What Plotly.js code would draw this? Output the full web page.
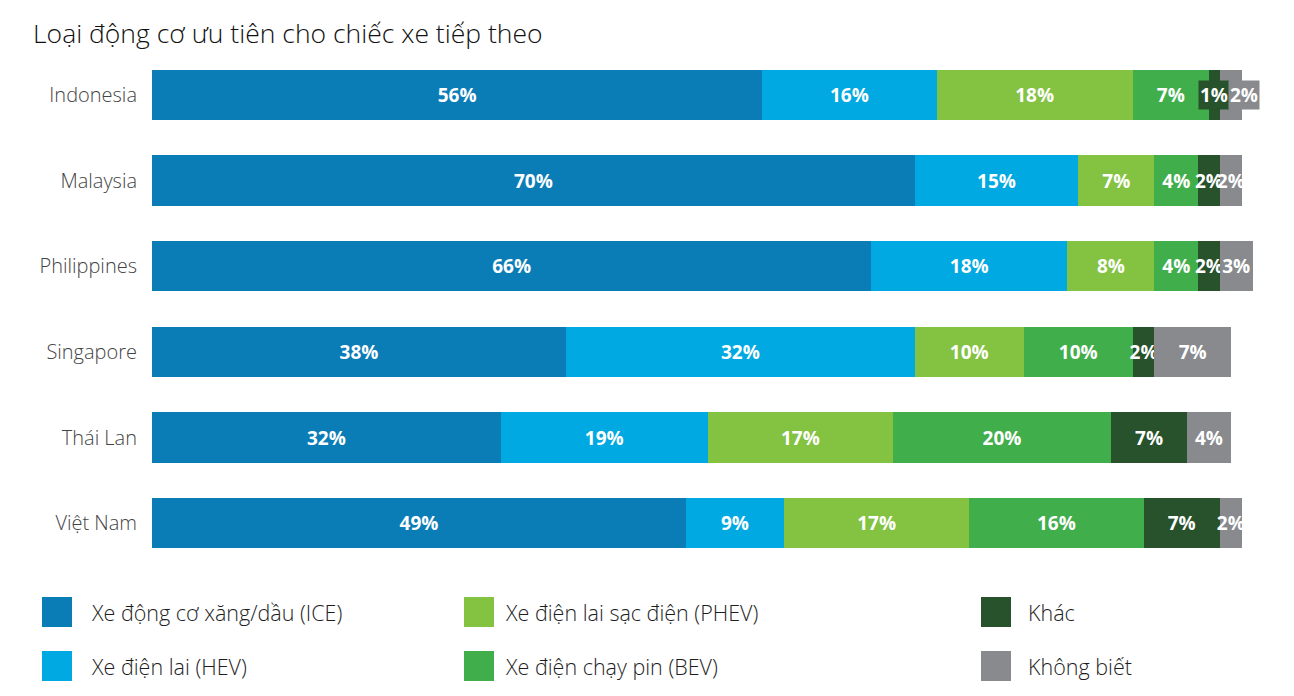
<!DOCTYPE html>
<html>
<head>
<meta charset="utf-8">
<script src="https://cdn.plot.ly/plotly-3.0.1.min.js"></script>
<style>html,body{margin:0;padding:0;background:#fff;}#chart{width:1294px;height:696px;}</style>
</head>
<body>
<div id="chart"></div>
<script>
// ---- data ----
const countries = ["Indonesia", "Malaysia", "Philippines", "Singapore", "Thái Lan", "Việt Nam"];
const seriesNames = ["Xe động cơ xăng/dầu (ICE)", "Xe điện lai (HEV)", "Xe điện lai sạc điện (PHEV)", "Xe điện chạy pin (BEV)", "Khác", "Không biết"];
const iceValues   = [56, 70, 66, 38, 32, 49];
const hevValues   = [16, 15, 18, 32, 19, 9];
const phevValues  = [18, 7, 8, 10, 17, 17];
const bevValues   = [7, 4, 4, 10, 20, 16];
const otherValues = [1, 2, 2, 2, 7, 7];
const unknownValues = [2, 2, 3, 7, 4, 2];
const titleText = "Loại động cơ ưu tiên cho chiếc xe tiếp theo";

// ---- styles ----
const colors = ["#0B7DB6", "#00A9E2", "#84C242", "#40AE4B", "#27522B", "#888A8E"];
const allValues = [iceValues, hevValues, phevValues, bevValues, otherValues, unknownValues];
const FONT = "'Open Sans', 'Noto Sans', sans-serif";

const W = 1294, Hh = 696;
const XMAX = 101.5;
const PX_PER_UNIT = 10.9;
const L = 152, T = 52, B = 130;
const plotW = Math.round(XMAX * PX_PER_UNIT);
const R = W - L - plotW;
const plotH = Hh - T - B;

// Indonesia's two smallest labels are drawn as boxed labels (as in the reference)
const boxedRow = 0;
const boxedSeries = [4, 5];

const traces = allValues.map((vals, i) => ({
  type: "bar",
  orientation: "h",
  name: seriesNames[i],
  y: countries,
  x: vals,
  marker: {color: colors[i], line: {width: 0}},
  text: vals.map((v, r) => (r === boxedRow && boxedSeries.includes(i)) ? "" : v + "%"),
  texttemplate: "%{text}",
  textposition: "inside",
  insidetextanchor: "middle",
  textangle: 0,
  constraintext: "none",
  cliponaxis: false,
  textfont: {family: FONT, size: 19, color: "#ffffff", weight: 700},
  hoverinfo: "name+x",
  showlegend: false
}));

const annotations = [];
// boxed labels: first centred on its segment, second starting after the first box
{
  let start = 0;
  for (let j = 0; j < boxedSeries[0]; j++) start += allValues[j][boxedRow];
  const v1 = allValues[boxedSeries[0]][boxedRow];
  const v2 = allValues[boxedSeries[1]][boxedRow];
  annotations.push({
    xref: "x", yref: "y",
    x: start + v1 / 2, y: countries[boxedRow],
    xanchor: "center", yanchor: "middle",
    text: v1 + "%", showarrow: false,
    bgcolor: colors[boxedSeries[0]], borderpad: 1,
    font: {family: FONT, size: 19, color: "#ffffff", weight: 700}
  });
  annotations.push({
    xref: "x", yref: "y",
    x: start + v1, y: countries[boxedRow],
    xanchor: "left", yanchor: "middle", xshift: 8,
    text: v2 + "%", showarrow: false,
    bgcolor: colors[boxedSeries[1]], borderpad: 1,
    font: {family: FONT, size: 19, color: "#ffffff", weight: 700}
  });
}

// custom legend: 3 columns x 2 rows (column-major), built from names/colors
const legSymX = [42, 464, 981];
const legTextX = [89, 503, 1026];
const legRowY = [612, 666];
const SYM = 30;
const px2x = px => (px - L) / plotW;
const py2y = py => (T + plotH - py) / plotH;
const shapes = [];
seriesNames.forEach((nm, i) => {
  const col = Math.floor(i / 2), row = i % 2;
  const cy = legRowY[row];
  shapes.push({
    type: "rect", xref: "paper", yref: "paper",
    x0: px2x(legSymX[col]), x1: px2x(legSymX[col] + SYM),
    y0: py2y(cy + SYM / 2), y1: py2y(cy - SYM / 2),
    fillcolor: colors[i], line: {width: 0}
  });
  annotations.push({
    xref: "paper", yref: "paper",
    x: px2x(legTextX[col]), y: py2y(cy),
    xanchor: "left", yanchor: "middle",
    text: nm, showarrow: false,
    font: {family: FONT, size: 21.5, color: "#1e1e1e", weight: 300}
  });
});

const layout = {
  width: W, height: Hh,
  margin: {l: L, r: R, t: T, b: B, pad: 0},
  paper_bgcolor: "#ffffff",
  plot_bgcolor: "#ffffff",
  barmode: "stack",
  bargap: 0.416,
  showlegend: false,
  title: {
    text: titleText,
    xref: "container", yref: "container",
    x: 33 / W, xanchor: "left",
    y: 1 - 34 / Hh, yanchor: "middle",
    font: {family: FONT, size: 26.5, color: "#111111", weight: 300}
  },
  xaxis: {
    range: [0, XMAX],
    visible: false,
    fixedrange: true
  },
  yaxis: {
    type: "category",
    autorange: "reversed",
    showgrid: false, zeroline: false, showline: false,
    ticks: "",
    ticklabelstandoff: 14,
    tickfont: {family: FONT, size: 20, color: "#444444", weight: 300},
    fixedrange: true
  },
  shapes: shapes,
  annotations: annotations
};

Plotly.newPlot("chart", traces, layout, {displayModeBar: false, staticPlot: true});
</script>
</body>
</html>
